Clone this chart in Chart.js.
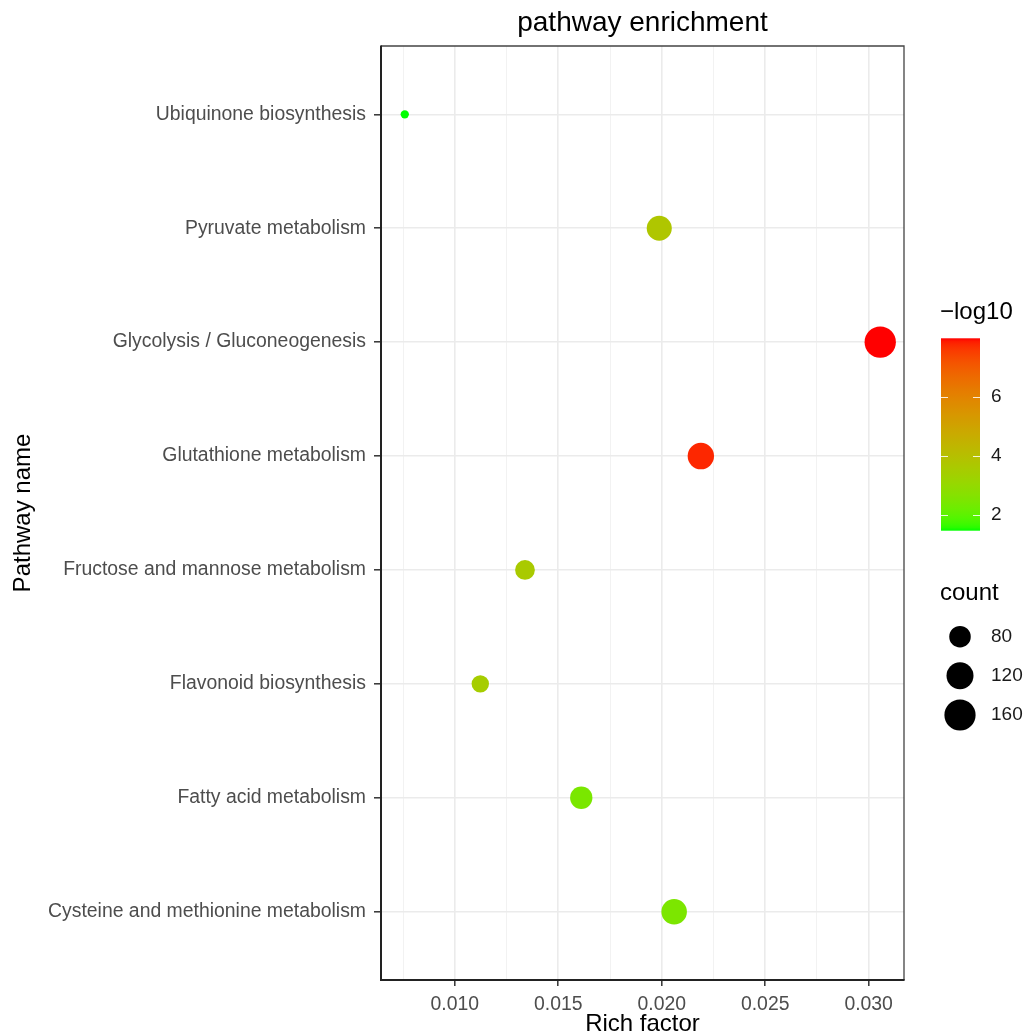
<!DOCTYPE html>
<html>
<head>
<meta charset="utf-8">
<script src="https://cdn.jsdelivr.net/npm/chart.js@4.4.1/dist/chart.umd.min.js"></script>
<style>
  html, body { margin: 0; padding: 0; background: #ffffff; }
  canvas { display: block; }
</style>
</head>
<body>
<canvas id="chart" width="1031" height="1035"></canvas>
<script>
// Pathways, listed top to bottom as they appear on the y axis
const pathways = [
  'Ubiquinone biosynthesis',
  'Pyruvate metabolism',
  'Glycolysis / Gluconeogenesis',
  'Glutathione metabolism',
  'Fructose and mannose metabolism',
  'Flavonoid biosynthesis',
  'Fatty acid metabolism',
  'Cysteine and methionine metabolism'
];
const richFactor = [0.00758, 0.01988, 0.03056, 0.02189, 0.01339, 0.01123, 0.01611, 0.0206];
const geneCount  = [40, 104, 161, 115, 70, 59, 85, 108];
const negLog10P  = [1.47, 3.76, 8.0, 7.8, 3.6, 3.5, 2.45, 2.5];

const xMajorTicks = [0.010, 0.015, 0.020, 0.025, 0.030];
const colorTicks  = [2, 4, 6];
const countBreaks = [80, 120, 160];

const FAMILY = "'Liberation Sans', Arial, Helvetica, sans-serif";
const LOW_COLOR = '#00FF00';
const HIGH_COLOR = '#FF0000';

// ---- colour gradient interpolated in CIELAB ----
function hexToRgb(h) {
  const n = parseInt(h.slice(1), 16);
  return [(n >> 16) & 255, (n >> 8) & 255, n & 255];
}
function srgbToLinear(c) { c /= 255; return c <= 0.04045 ? c / 12.92 : Math.pow((c + 0.055) / 1.055, 2.4); }
function linearToSrgb(c) {
  const v = c <= 0.0031308 ? 12.92 * c : 1.055 * Math.pow(c, 1 / 2.4) - 0.055;
  return Math.max(0, Math.min(255, Math.round(v * 255)));
}
const WX = 0.95047, WY = 1.0, WZ = 1.08883;
function rgbToLab(rgb) {
  const [r, g, b] = rgb.map(srgbToLinear);
  const X = 0.4124564 * r + 0.3575761 * g + 0.1804375 * b;
  const Y = 0.2126729 * r + 0.7151522 * g + 0.0721750 * b;
  const Z = 0.0193339 * r + 0.1191920 * g + 0.9503041 * b;
  const f = t => t > 216 / 24389 ? Math.cbrt(t) : (24389 / 27 * t + 16) / 116;
  const fx = f(X / WX), fy = f(Y / WY), fz = f(Z / WZ);
  return [116 * fy - 16, 500 * (fx - fy), 200 * (fy - fz)];
}
function labToRgb(lab) {
  const [L, a, bb] = lab;
  const fy = (L + 16) / 116, fx = fy + a / 500, fz = fy - bb / 200;
  const inv = t => t * t * t > 216 / 24389 ? t * t * t : (116 * t - 16) / (24389 / 27);
  const X = WX * inv(fx), Y = WY * inv(fy), Z = WZ * inv(fz);
  const r = 3.2404542 * X - 1.5371385 * Y - 0.4985314 * Z;
  const g = -0.9692660 * X + 1.8760108 * Y + 0.0415560 * Z;
  const b = 0.0556434 * X - 0.2040259 * Y + 1.0572252 * Z;
  return [linearToSrgb(r), linearToSrgb(g), linearToSrgb(b)];
}
const labLow = rgbToLab(hexToRgb(LOW_COLOR));
const labHigh = rgbToLab(hexToRgb(HIGH_COLOR));
const pMin = Math.min(...negLog10P), pMax = Math.max(...negLog10P);
function colorFor(v) {
  const t = Math.max(0, Math.min(1, (v - pMin) / (pMax - pMin)));
  const lab = labLow.map((c, i) => c + (labHigh[i] - c) * t);
  const [r, g, b] = labToRgb(lab);
  return `rgb(${r},${g},${b})`;
}

// ---- point size: area scale between smallest and largest count ----
const cMin = Math.min(...geneCount), cMax = Math.max(...geneCount);
function radiusFor(c) {
  const u = Math.sqrt(Math.max(0, (c - cMin) / (cMax - cMin)));
  return (8.3 + 23 * u) / 2;
}

// ---- axis limits: 5% expansion on the continuous axis, 0.6 on the discrete one ----
const xLo = Math.min(...richFactor), xHi = Math.max(...richFactor);
const xPad = (xHi - xLo) * 0.05;
const n = pathways.length;

const points = pathways.map((name, i) => ({ x: richFactor[i], y: n - i }));

const STEP = 0.0025;
const isMajor = v => Math.round(v / STEP) % 2 === 0;

// Panel border and the two legends on the right
const panelAndLegends = {
  id: 'panelAndLegends',
  afterDatasetsDraw(chart) {
    const { ctx, chartArea: a } = chart;
    ctx.save();
    ctx.strokeStyle = '#444444';
    ctx.lineWidth = 1.3;
    ctx.beginPath();
    ctx.moveTo(a.left, a.top); ctx.lineTo(a.right, a.top); ctx.lineTo(a.right, a.bottom);
    ctx.stroke();
    ctx.strokeStyle = '#222222';
    ctx.lineWidth = 2;
    ctx.beginPath();
    ctx.moveTo(a.left, a.top - 0.6); ctx.lineTo(a.left, a.bottom); ctx.lineTo(a.right + 0.6, a.bottom);
    ctx.stroke();
    ctx.restore();
  },
  afterDraw(chart) {
    const ctx = chart.ctx;
    ctx.save();
    ctx.fillStyle = '#000000';
    ctx.textAlign = 'left';
    ctx.textBaseline = 'middle';

    // colour bar
    ctx.font = `24px ${FAMILY}`;
    ctx.fillText('\u2212log10', 940, 312);
    const bx = 941, bw = 39, bTop = 338.3, bBot = 530.7;
    const grad = ctx.createLinearGradient(0, bBot, 0, bTop);
    for (let k = 0; k <= 60; k++) {
      const t = k / 60;
      grad.addColorStop(t, colorFor(pMin + t * (pMax - pMin)));
    }
    ctx.fillStyle = grad;
    ctx.fillRect(bx, bTop, bw, bBot - bTop);
    const yFor = v => bBot - (v - pMin) / (pMax - pMin) * (bBot - bTop);
    ctx.strokeStyle = 'rgba(255,255,255,0.85)';
    ctx.lineWidth = 1;
    ctx.font = `19px ${FAMILY}`;
    ctx.fillStyle = '#1A1A1A';
    colorTicks.forEach(v => {
      const y = Math.round(yFor(v)) + 0.5;
      ctx.beginPath();
      ctx.moveTo(bx, y); ctx.lineTo(bx + 7, y);
      ctx.moveTo(bx + bw - 7, y); ctx.lineTo(bx + bw, y);
      ctx.stroke();
      ctx.fillText(String(v), 991, yFor(v));
    });

    // size legend
    ctx.fillStyle = '#000000';
    ctx.font = `24px ${FAMILY}`;
    ctx.fillText('count', 940, 593);
    const keyY = [636.7, 675.7, 715];
    ctx.font = `19px ${FAMILY}`;
    countBreaks.forEach((c, i) => {
      ctx.fillStyle = '#000000';
      ctx.beginPath();
      ctx.arc(960, keyY[i], radiusFor(c), 0, Math.PI * 2);
      ctx.fill();
      ctx.fillStyle = '#1A1A1A';
      ctx.fillText(String(c), 991, keyY[i]);
    });
    ctx.restore();
  }
};

new Chart(document.getElementById('chart'), {
  type: 'scatter',
  data: {
    datasets: [{
      label: 'pathways',
      data: points,
      backgroundColor: negLog10P.map(colorFor),
      borderWidth: 0,
      pointRadius: geneCount.map(radiusFor),
      pointHoverRadius: geneCount.map(radiusFor),
      pointStyle: 'circle'
    }]
  },
  options: {
    responsive: false,
    animation: false,
    devicePixelRatio: 1,
    layout: { padding: { left: 0, right: 127, top: 0, bottom: 0 } },
    plugins: {
      legend: { display: false },
      tooltip: { enabled: false },
      title: {
        display: true,
        text: 'pathway enrichment',
        fullSize: false,
        color: '#000000',
        font: { family: FAMILY, size: 28, weight: 'normal', lineHeight: 1.2 },
        padding: { top: 6.5, bottom: 5.9 }
      }
    },
    scales: {
      x: {
        type: 'linear',
        min: xLo - xPad,
        max: xHi + xPad,
        afterFit: s => { s.height = 55; },
        ticks: {
          stepSize: STEP,
          includeBounds: false,
          autoSkip: false,
          maxRotation: 0,
          padding: 7,
          color: '#4D4D4D',
          font: { family: FAMILY, size: 19.4 },
          callback: v => {
            const hit = xMajorTicks.find(m => Math.abs(m - v) < 1e-9);
            return hit !== undefined ? hit.toFixed(3) : '';
          }
        },
        grid: {
          color: c => (c.tick && isMajor(c.tick.value)) ? '#EBEBEB' : '#F2F2F2',
          lineWidth: c => (c.tick && isMajor(c.tick.value)) ? 1.6 : 1,
          tickColor: c => (c.tick && isMajor(c.tick.value)) ? '#333333' : 'rgba(0,0,0,0)',
          tickWidth: 1.5,
          tickLength: 6
        },
        border: { display: false },
        title: {
          display: true,
          text: 'Rich factor',
          color: '#000000',
          font: { family: FAMILY, size: 24, lineHeight: 0.86 },
          padding: { top: 0, bottom: 0 }
        }
      },
      y: {
        type: 'linear',
        min: 1 - 0.6,
        max: n + 0.6,
        afterFit: s => { s.width = 381; },
        ticks: {
          stepSize: 1,
          includeBounds: false,
          autoSkip: false,
          padding: 8,
          color: '#4D4D4D',
          font: { family: FAMILY, size: 19.4 },
          callback: v => pathways[n - Math.round(v)]
        },
        grid: {
          color: '#EBEBEB',
          lineWidth: 1.6,
          tickColor: '#333333',
          tickWidth: 1.5,
          tickLength: 7
        },
        border: { display: false },
        title: {
          display: true,
          text: 'Pathway name',
          color: '#000000',
          font: { family: FAMILY, size: 24, lineHeight: 1 },
          padding: { top: 11, bottom: 0 }
        }
      }
    }
  },
  plugins: [panelAndLegends]
});
</script>
</body>
</html>
